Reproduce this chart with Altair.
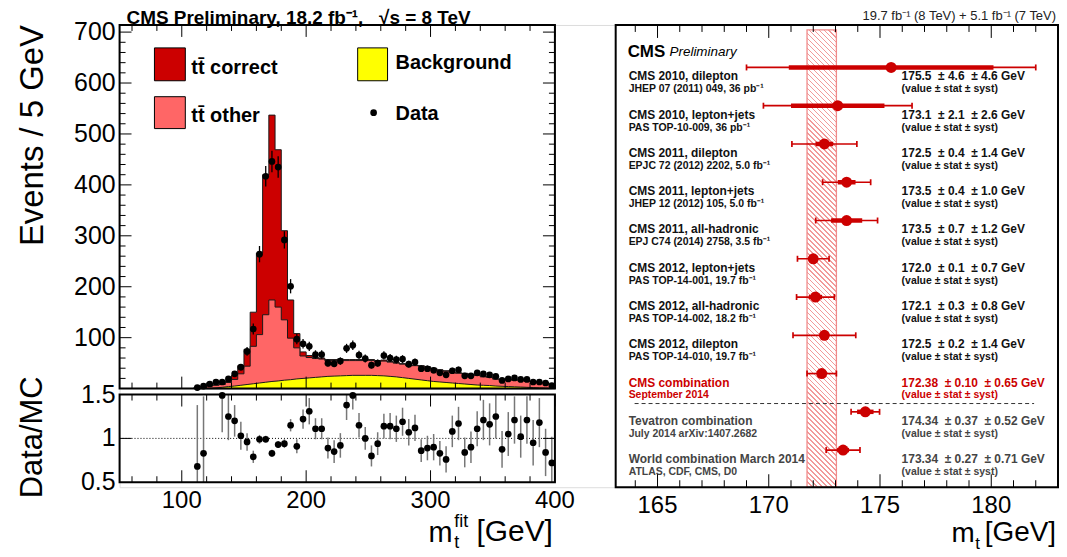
import altair as alt
import pandas as pd

FONT = "Liberation Sans"
DARK_RED = "#cc0000"
SALMON = "#ff6666"
YELLOW = "#ffff00"
PINK = "#f29a9a"
NB = "\u00a0"

# ---------------- left panel: fitted top-quark mass ----------------
bin_lo = list(range(110, 400, 5))  # 5 GeV bins 110..395
data_counts = [2, 5, 9, 13, 13, 19, 29, 42, 73, 117, 264, 417, 446, 435, 292, 201, 97, 88, 83, 67,
               67, 50, 49, 54, 79, 85, 66, 59, 46, 50, 65, 60, 57, 58, 48, 52, 39, 39, 36, 31,
               27, 35, 37, 25, 25, 31, 29, 27, 24, 16, 19, 21, 18, 18, 13, 13, 11, 6]
data_err = [1.5, 2, 3, 3.6, 3.6, 4.4, 5.4, 6.5, 8.5, 10.8, 16, 20, 21, 21, 17, 14, 10, 9.4, 9.1, 8.2,
            8.2, 7.1, 7, 7.3, 8.9, 9.2, 8.1, 7.7, 6.8, 7.1, 8.1, 7.7, 7.5, 7.6, 6.9, 7.2, 6.2, 6.2, 6, 5.6,
            5.2, 5.9, 6.1, 5, 5, 5.6, 5.4, 5.2, 4.9, 4, 4.4, 4.6, 4.2, 4.2, 3.6, 3.6, 3.3, 2.4]
# top of the stack (tt correct + tt other + background)
mc_total = [3, 5, 5.5, 7.5, 9, 15, 26, 45, 77, 150, 266, 420, 537, 469, 310, 174, 108, 72, 65, 61,
            60, 57, 57, 58, 57, 57, 57, 58, 57, 55, 56, 53, 51, 49, 46, 46, 45, 43, 40, 37,
            35, 32, 31, 30, 28, 27, 24, 23, 19, 18, 18, 17, 17, 15, 14, 12, 12, 8]
# tt other + background
mc_other = [2.5, 4.5, 5, 6.5, 8, 12, 18, 29, 44, 83, 106, 145, 174, 160, 135, 99, 80, 64, 61, 59,
            58, 55, 55, 56, 55, 55, 55, 56, 55, 53, 54, 52, 50, 48, 45, 45, 44, 42, 39, 36,
            34, 31, 30, 29, 27, 26, 23, 22, 18.5, 17.5, 17.5, 16.5, 16.5, 14.5, 13.5, 11.5, 11.5, 7.5]
# background
mc_bg = [0, 0, 0.5, 1.5, 2.5, 4, 5, 6.5, 8, 9.5, 11, 12.5, 14, 15, 16.5, 17.5, 19, 20, 21, 22,
         23, 24, 24.5, 25, 25.5, 26, 26, 26, 26, 25.5, 25, 24, 23, 21.5, 20, 18.5, 17, 15.5, 14, 13,
         12, 11, 10, 9, 8, 7, 6.5, 6, 5, 4.5, 4, 3.5, 3, 2.5, 2, 1.5, 1, 0.5]
ratio_vals = [0.68, 0.83, None, None, 1.49, 1.25, 1.20, 1.03, 0.96, 0.79, 0.99, 0.99, 0.83, 0.93, 0.94, 1.15, 0.91, 1.22, 1.31, 1.11,
              1.11, 0.89, 0.85, 0.92, 1.38, 1.49, 1.15, 1.00, 0.80, 0.94, 1.14, 1.14, 1.11, 1.19, 1.07, 1.12, 0.86, 0.89, 0.90, 0.83,
              0.76, 1.08, 1.17, 0.84, 0.90, 1.11, 1.21, 1.16, 1.25, 0.875, 1.05, 1.21, 1.02, 1.21, 0.95, 1.18, 0.84, 0.72]
ratio_err = [0.7, 0.65, None, None, 0.42, 0.27, 0.18, 0.16, 0.10, 0.07, 0.05, 0.04, 0.04, 0.04, 0.05, 0.07, 0.08, 0.11, 0.15, 0.12,
             0.12, 0.12, 0.13, 0.14, 0.17, 0.16, 0.14, 0.13, 0.12, 0.13, 0.14, 0.15, 0.15, 0.16, 0.15, 0.15, 0.13, 0.14, 0.15, 0.14,
             0.15, 0.18, 0.19, 0.17, 0.18, 0.20, 0.23, 0.24, 0.25, 0.21, 0.25, 0.27, 0.24, 0.27, 0.26, 0.28, 0.27, 0.30]

main_x_major = [100, 200, 300, 400]
main_x_minor = [60, 80, 120, 140, 160, 180, 220, 240, 260, 280, 320, 340, 360, 380]
main_y_major = [100, 200, 300, 400, 500, 600, 700]
main_y_minor = [v for v in range(20, 711, 20) if v % 100 != 0]
ratio_y_vals = [0.5, 1.0, 1.5]
ratio_y_text = ["0.5", "1", "1.5"]

# ---------------- right panel: top mass summary ----------------
meas_label = ["CMS 2010, dilepton", "CMS 2010, lepton+jets", "CMS 2011, dilepton", "CMS 2011, lepton+jets",
              "CMS 2011, all-hadronic", "CMS 2012, lepton+jets", "CMS 2012, all-hadronic", "CMS 2012, dilepton",
              "CMS combination", "Tevatron combination", "World combination March 2014"]
meas_ref = ["JHEP 07 (2011) 049, 36 pb\u207b\u00b9", "PAS TOP-10-009, 36 pb\u207b\u00b9",
            "EPJC 72 (2012) 2202, 5.0 fb\u207b\u00b9", "JHEP 12 (2012) 105, 5.0 fb\u207b\u00b9",
            "EPJ C74 (2014) 2758, 3.5 fb\u207b\u00b9", "PAS TOP-14-001, 19.7 fb\u207b\u00b9",
            "PAS TOP-14-002, 18.2 fb\u207b\u00b9", "PAS TOP-14-010, 19.7 fb\u207b\u00b9",
            "September 2014", "July 2014 arXiv:1407.2682", "ATLAS, CDF, CMS, D0"]
meas_value = [175.5, 173.1, 172.5, 173.5, 173.5, 172.0, 172.1, 172.5, 172.38, 174.34, 173.34]
meas_stat = [4.6, 2.1, 0.4, 0.4, 0.7, 0.1, 0.3, 0.2, 0.10, 0.37, 0.27]
meas_syst = [4.6, 2.6, 1.4, 1.0, 1.2, 0.7, 0.8, 1.4, 0.65, 0.52, 0.71]
meas_total = [6.5, 3.34, 1.46, 1.08, 1.39, 0.71, 0.85, 1.41, 0.66, 0.64, 0.76]
meas_group = ["cms"] * 8 + ["comb"] + ["ext", "ext"]
meas_decimals = [1] * 8 + [2] * 3
forest_x_major = [165, 170, 175, 180]
forest_x_minor = [v for v in range(164, 183) if v % 5 != 0]

# ---------------- geometry (pixels inside one view whose origin is the main plot's corner) ----------------
W_L, H_MAIN = 437, 365
R_TOP, R_BOT = 371, 459          # ratio panel
F_LEFT, F_RIGHT, F_H = 498, 942, 464   # forest panel
VIEW_W, VIEW_H = 942, 464
XF_MIN, XF_MAX = 163.12, 183.0

ONE = pd.DataFrame({"k": [0]})

xs = alt.Scale(domain=[50, 400], range=[0, W_L], nice=False, zero=False)
ys = alt.Scale(domain=[0, 714], range=[H_MAIN, 0], nice=False, zero=False)
yr = alt.Scale(domain=[0.5, 1.5], range=[R_BOT, R_TOP], nice=False, zero=False)
xf = alt.Scale(domain=[XF_MIN, XF_MAX], range=[F_LEFT, F_RIGHT], nice=False, zero=False)
yf = alt.Scale(domain=[-1.11, 10.97], range=[0, F_H], nice=False, zero=False)


def txt(text, x, y, size, weight="normal", align="left", baseline="middle", color="black", style="normal", angle=0):
    return alt.Chart(ONE).mark_text(align=align, baseline=baseline, fontSize=size, fontWeight=weight,
                                    fontStyle=style, font=FONT, color=color, angle=angle).encode(
        x=alt.value(x), y=alt.value(y), text=alt.value(text))


def box(x, x2, y, y2, fill, sw=1):
    return alt.Chart(ONE).mark_rect(fill=fill, stroke="black", strokeWidth=sw).encode(
        x=alt.value(x), x2=alt.value(x2), y=alt.value(y), y2=alt.value(y2))


def frame(x, x2, y, y2):
    return alt.Chart(ONE).mark_rect(fillOpacity=0, stroke="black", strokeWidth=2).encode(
        x=alt.value(x), x2=alt.value(x2), y=alt.value(y), y2=alt.value(y2))


def x_ticks(vals, length, top, bottom, scale):
    df = pd.DataFrame({"t": vals})
    base = alt.Chart(df).mark_rule(color="black", strokeWidth=1)
    return [base.encode(x=alt.X("t:Q", scale=scale, axis=None), y=alt.value(top), y2=alt.value(top + length)),
            base.encode(x=alt.X("t:Q", scale=scale, axis=None), y=alt.value(bottom), y2=alt.value(bottom - length))]


def y_ticks(vals, length, left, right, scale):
    df = pd.DataFrame({"t": vals})
    base = alt.Chart(df).mark_rule(color="black", strokeWidth=1)
    return [base.encode(y=alt.Y("t:Q", scale=scale, axis=None), x=alt.value(left), x2=alt.value(left + length)),
            base.encode(y=alt.Y("t:Q", scale=scale, axis=None), x=alt.value(right), x2=alt.value(right - length))]


def x_labels(vals, y, scale, size=24):
    df = pd.DataFrame({"t": vals, "s": [str(v) for v in vals]})
    return alt.Chart(df).mark_text(align="center", baseline="middle", fontSize=size, font=FONT, color="black").encode(
        x=alt.X("t:Q", scale=scale, axis=None), y=alt.value(y), text="s:N")


def y_labels(vals, texts, x, scale, size=25):
    df = pd.DataFrame({"t": vals, "s": texts})
    return alt.Chart(df).mark_text(align="right", baseline="middle", fontSize=size, font=FONT, color="black").encode(
        y=alt.Y("t:Q", scale=scale, axis=None), x=alt.value(x), text="s:N")


# ---------------- main histogram ----------------
centers = [b + 2.5 for b in bin_lo]
hist = pd.DataFrame({"edge": bin_lo + [400], "total": mc_total + mc_total[-1:], "other": mc_other + mc_other[-1:]})
bg_df = pd.DataFrame({"m": centers, "bg": mc_bg})
pts = pd.DataFrame({"m": centers, "n": data_counts,
                    "lo": [n - e for n, e in zip(data_counts, data_err)],
                    "hi": [n + e for n, e in zip(data_counts, data_err)]})

a_total = alt.Chart(hist).mark_area(interpolate="step-after", fill=DARK_RED, stroke="#1a1a1a", strokeWidth=1).encode(
    x=alt.X("edge:Q", scale=xs, axis=None), y=alt.Y("total:Q", scale=ys, axis=None))
a_other = alt.Chart(hist).mark_area(interpolate="step-after", fill=SALMON, stroke="#1a1a1a", strokeWidth=1).encode(
    x=alt.X("edge:Q", scale=xs, axis=None), y=alt.Y("other:Q", scale=ys, axis=None))
a_bg = alt.Chart(bg_df).mark_area(fill=YELLOW, stroke="#1a1a1a", strokeWidth=1).encode(
    x=alt.X("m:Q", scale=xs, axis=None), y=alt.Y("bg:Q", scale=ys, axis=None))
d_err = alt.Chart(pts).mark_rule(color="black", strokeWidth=1.3).encode(
    x=alt.X("m:Q", scale=xs, axis=None), y=alt.Y("lo:Q", scale=ys, axis=None), y2="hi:Q")
d_pts = alt.Chart(pts).mark_circle(size=45, color="black", opacity=1).encode(
    x=alt.X("m:Q", scale=xs, axis=None), y=alt.Y("n:Q", scale=ys, axis=None))

legend = [
    box(35, 66, 23, 56, DARK_RED), txt("tt\u0304 correct", 72, 43, 20, "bold"),
    box(35, 66, 72, 104, SALMON), txt("tt\u0304 other", 72, 91, 20, "bold"),
    box(239, 269, 23, 56, YELLOW), txt("Background", 277, 38, 20, "bold"),
    alt.Chart(ONE).mark_circle(size=45, color="black", opacity=1).encode(x=alt.value(255), y=alt.value(88)),
    txt("Data", 277, 89, 20, "bold"),
]
left_text = [
    txt("CMS Preliminary, 18.2 fb\u207b\u00b9," + NB * 3 + "\u221As = 8 TeV", 7, -0.5, 19, "bold",
        baseline="alphabetic"),
    txt("Events / 5 GeV", -87, 111, 33, angle=270, align="center"),
    txt("Data/MC", -87, R_TOP + 43, 31, angle=270, align="center"),
    txt("m", 310, 519, 29, baseline="alphabetic"),
    txt("fit", 336, 504, 18, baseline="alphabetic"),
    txt("t", 336, 525, 18, baseline="alphabetic"),
    txt("[GeV]", 435, 518, 30, align="right", baseline="alphabetic"),
]

# ---------------- ratio panel ----------------
rdf = pd.DataFrame({"m": centers, "r": ratio_vals, "e": ratio_err}).dropna()
rdf["lo"] = (rdf["r"] - rdf["e"]).clip(lower=0.5)
rdf["hi"] = (rdf["r"] + rdf["e"]).clip(upper=1.5)

r_err = alt.Chart(rdf).mark_rule(color="#777777", strokeWidth=1.5).encode(
    x=alt.X("m:Q", scale=xs, axis=None), y=alt.Y("lo:Q", scale=yr, axis=None), y2="hi:Q")
r_pts = alt.Chart(rdf).mark_circle(size=45, color="black", opacity=1).encode(
    x=alt.X("m:Q", scale=xs, axis=None), y=alt.Y("r:Q", scale=yr, axis=None))
one_line = alt.Chart(pd.DataFrame({"one": [1.0]})).mark_rule(color="black", strokeDash=[1, 2], strokeWidth=1).encode(
    y=alt.Y("one:Q", scale=yr, axis=None), x=alt.value(0), x2=alt.value(W_L))

# ---------------- forest plot ----------------
fdf = pd.DataFrame({"row": list(range(len(meas_label))), "label": meas_label, "ref": meas_ref,
                    "val": meas_value, "group": meas_group})
fdf["tlo"] = [v - t for v, t in zip(meas_value, meas_total)]
fdf["thi"] = [v + t for v, t in zip(meas_value, meas_total)]
fdf["slo"] = [v - s for v, s in zip(meas_value, meas_stat)]
fdf["shi"] = [v + s for v, s in zip(meas_value, meas_stat)]
fdf["vtext"] = [f"{v:.{d}f}{NB}{NB}\u00b1 {s:.{d}f}{NB}{NB}\u00b1 {y:.{d}f} GeV"
                for v, s, y, d in zip(meas_value, meas_stat, meas_syst, meas_decimals)]
fdf["note"] = "(value \u00b1 stat \u00b1 syst)"

text_color = alt.Color("group:N", scale=alt.Scale(domain=["cms", "comb", "ext"],
                                                  range=["#111111", DARK_RED, "#444444"]), legend=None)

comb_val, comb_tot = meas_value[8], meas_total[8]
band_df = pd.DataFrame({"lo": [comb_val - comb_tot], "hi": [comb_val + comb_tot]})
band_w = (F_RIGHT - F_LEFT) * 2 * comb_tot / (XF_MAX - XF_MIN)
band_h = F_H - 5
aspect = band_w / band_h
k = (1 + aspect) / (1 + aspect ** 2)
L = band_w + band_h
period, lw = 5.0, 1.6
stops = []
i = 0
while i * period < L:
    s = i * period / L
    e = min((i * period + lw) / L, 1.0)
    stops += [alt.GradientStop(color="white", offset=s), alt.GradientStop(color=PINK, offset=s),
              alt.GradientStop(color=PINK, offset=e), alt.GradientStop(color="white", offset=e)]
    i += 1
hatch = alt.LinearGradient(gradient="linear", stops=stops, x1=0, y1=1, x2=aspect * k, y2=1 - k)

band = alt.Chart(band_df).mark_rect(fill=hatch, stroke="#f08a8a", strokeWidth=1.3).encode(
    x=alt.X("lo:Q", scale=xf, axis=None), x2="hi:Q", y=alt.value(5), y2=alt.value(F_H))
dash = alt.Chart(ONE).mark_rule(color="#333333", strokeDash=[4, 3], strokeWidth=1).encode(
    x=alt.value(F_LEFT + 19), x2=alt.value(F_LEFT + 420), y=alt.value(380), y2=alt.value(380))
t_bars = alt.Chart(fdf).mark_rule(color=DARK_RED, strokeWidth=1.7).encode(
    x=alt.X("tlo:Q", scale=xf, axis=None), x2="thi:Q", y=alt.Y("row:Q", scale=yf, axis=None))
cap_lo = alt.Chart(fdf).mark_tick(orient="vertical", size=6, thickness=1.7, color=DARK_RED, opacity=1).encode(
    x=alt.X("tlo:Q", scale=xf, axis=None), y=alt.Y("row:Q", scale=yf, axis=None))
cap_hi = alt.Chart(fdf).mark_tick(orient="vertical", size=6, thickness=1.7, color=DARK_RED, opacity=1).encode(
    x=alt.X("thi:Q", scale=xf, axis=None), y=alt.Y("row:Q", scale=yf, axis=None))
s_bars = alt.Chart(fdf).mark_rule(color=DARK_RED, strokeWidth=4.5).encode(
    x=alt.X("slo:Q", scale=xf, axis=None), x2="shi:Q", y=alt.Y("row:Q", scale=yf, axis=None))
f_pts = alt.Chart(fdf).mark_circle(size=121, color=DARK_RED, opacity=1).encode(
    x=alt.X("val:Q", scale=xf, axis=None), y=alt.Y("row:Q", scale=yf, axis=None))


def row_text(field, x, dy, size):
    return alt.Chart(fdf).mark_text(align="left", baseline="middle", dy=dy, fontSize=size,
                                    fontWeight="bold", font=FONT).encode(
        x=alt.value(x), y=alt.Y("row:Q", scale=yf, axis=None), text=f"{field}:N", color=text_color)


f_texts = [row_text("label", F_LEFT + 13, 9, 12), row_text("ref", F_LEFT + 13, 22, 10.5),
           row_text("vtext", F_LEFT + 287, 9, 12), row_text("note", F_LEFT + 287, 22, 10.5)]
f_annot = [
    txt("CMS", F_LEFT + 12, 27, 17, "bold"),
    txt("Preliminary", F_LEFT + 54, 27, 13.5, style="italic"),
    txt("19.7 fb\u207b\u00b9 (8 TeV) + 5.1 fb\u207b\u00b9 (7 TeV)", F_RIGHT - 2, -5, 13, align="right",
        baseline="alphabetic", color="#222222"),
    txt("m", F_LEFT + 337, 519, 28, baseline="alphabetic"),
    txt("t", F_LEFT + 361, 526, 17, baseline="alphabetic"),
    txt("[GeV]", F_RIGHT - 2, 518, 28, align="right", baseline="alphabetic"),
]

anchor = alt.Chart(ONE).mark_rule(strokeWidth=0.01, opacity=0).encode(
    x=alt.value(-112), x2=alt.value(-111.9), y=alt.value(-16), y2=alt.value(-15.9))

layers = [
    # main
    a_total, a_other, a_bg, d_err, d_pts, *legend,
    *x_ticks(main_x_major, 12, 0, H_MAIN, xs), *x_ticks(main_x_minor, 6, 0, H_MAIN, xs),
    *y_ticks(main_y_major, 12, 0, W_L, ys), *y_ticks(main_y_minor, 6, 0, W_L, ys),
    y_labels(main_y_major, [str(v) for v in main_y_major], -4, ys),
    frame(0, W_L, 0, H_MAIN),
    # ratio
    one_line, r_err, r_pts,
    *x_ticks(main_x_major, 12, R_TOP, R_BOT, xs), *x_ticks(main_x_minor, 6, R_TOP, R_BOT, xs),
    *y_ticks([1.0], 12, 0, W_L, yr),
    y_labels(ratio_y_vals, ratio_y_text, -4, yr),
    x_labels(main_x_major, 478, xs),
    frame(0, W_L, R_TOP, R_BOT),
    *left_text,
    # forest
    band, dash, t_bars, cap_lo, cap_hi, s_bars, f_pts, *f_texts, *f_annot,
    *x_ticks(forest_x_major, 13, 0, F_H, xf), *x_ticks(forest_x_minor, 7, 0, F_H, xf),
    x_labels(forest_x_major, 483, xf),
    frame(F_LEFT, F_RIGHT, 0, F_H),
    anchor,
]

chart = alt.layer(*layers).resolve_scale(x="independent", y="independent", color="independent").properties(
    width=VIEW_W, height=VIEW_H, padding=0, background="white"
).configure_view(stroke="transparent").configure(font=FONT)

chart.save("out.html", embed_options={"renderer": "svg", "actions": False})
